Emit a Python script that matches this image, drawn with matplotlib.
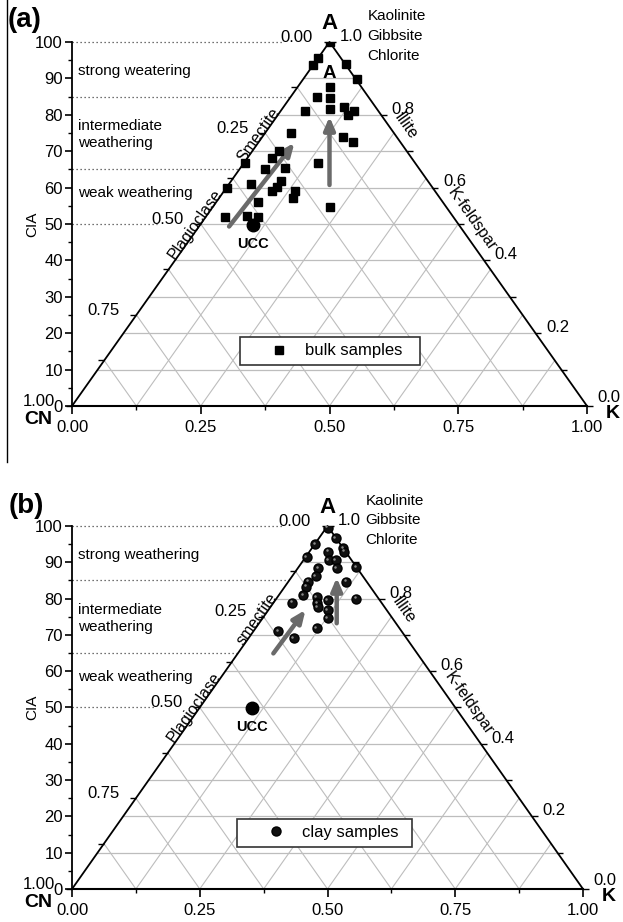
import numpy as np
import matplotlib
matplotlib.use('Agg')
import matplotlib.pyplot as plt
from matplotlib.lines import Line2D
from matplotlib.legend_handler import HandlerLine2D
import matplotlib.transforms as mtransforms

plt.rcParams['font.family'] = ['Liberation Sans', 'DejaVu Sans']

# (a) bulk samples: position on the CN-K base axis and CIA
bulk_x = [0.500, 0.478, 0.467, 0.532, 0.553, 0.501, 0.475, 0.501, 0.501, 0.452,
          0.529, 0.548, 0.535, 0.425, 0.527, 0.546, 0.401, 0.388, 0.477, 0.335,
          0.375, 0.414, 0.406, 0.348, 0.399, 0.388, 0.433, 0.429, 0.300, 0.361,
          0.501, 0.297, 0.340, 0.362]
bulk_cia = [100.0, 95.5, 93.7, 94.0, 89.8, 87.5, 85.0, 84.5, 81.7, 81.0,
            82.2, 81.0, 80.0, 75.0, 73.8, 72.6, 70.1, 68.0, 66.7, 66.7,
            65.0, 65.3, 61.9, 61.0, 60.1, 59.0, 59.1, 57.2, 60.0, 56.1,
            54.6, 51.8, 52.2, 51.8]

# (b) clay samples
clay_x = [0.500, 0.516, 0.476, 0.531, 0.533, 0.459, 0.501, 0.502, 0.516, 0.518,
          0.556, 0.482, 0.477, 0.462, 0.458, 0.536, 0.452, 0.479, 0.480, 0.481,
          0.500, 0.500, 0.500, 0.556, 0.431, 0.479, 0.404, 0.434]
clay_cia = [99.5, 96.7, 95.0, 93.9, 92.9, 91.4, 92.9, 90.6, 90.5, 88.3,
            88.6, 88.4, 86.1, 84.7, 83.3, 84.7, 80.9, 80.4, 78.8, 77.6,
            79.6, 76.8, 74.6, 80.0, 78.9, 71.8, 71.1, 69.1]

ucc_x = [0.352, 0.352]
ucc_cia = [49.7, 49.8]

# weathering trend arrows (tail x, tail CIA, head x, head CIA)
bulk_arrows = [(0.305, 49.3, 0.432, 72.3), (0.500, 60.7, 0.500, 79.5)]
clay_arrows = [(0.394, 64.9, 0.457, 76.9), (0.518, 73.2, 0.518, 85.8)]

# weathering zones
zone_cia = [100, 85, 65, 50]
zone_end = [0.41, 0.425, 0.325, 0.165]
zone_labels_a = ['strong weatering', 'intermediate\nweathering', 'weak weathering']
zone_labels_b = ['strong weathering', 'intermediate\nweathering', 'weak weathering']
zone_label_cia = [92.0, 74.6, 58.5]

base_ticks = [0.0, 0.25, 0.5, 0.75, 1.0]
base_labels = ['0.00', '0.25', '0.50', '0.75', '1.00']
cn_ticks = [0.0, 0.25, 0.5, 0.75, 1.0]
cn_labels = ['0.00', '0.25', '0.50', '0.75', '1.00']
a_ticks = [0.0, 0.2, 0.4, 0.6, 0.8, 1.0]
a_labels = ['0.0', '0.2', '0.4', '0.6', '0.8', '1.0']
minerals = ['Kaolinite', 'Gibbsite', 'Chlorite']
mineral_cia = [107.0, 101.7, 96.2]

GRID = '#bdbdbd'
ARROW = '#6a6a6a'


def panel(ax, xs, cia, sphere, arrows, zone_labels, smectite, inner_a):
    ax.set_xlim(0, 1)
    ax.set_ylim(0, 100)
    ax.patch.set_visible(False)
    for s in ['top', 'right']:
        ax.spines[s].set_visible(False)
    ax.spines['left'].set_linewidth(1.3)
    ax.spines['bottom'].set_linewidth(1.5)
    ax.set_xticks(base_ticks)
    ax.set_xticklabels(base_labels)
    ax.set_xticks(np.arange(0.125, 1, 0.25), minor=True)
    ax.set_yticks(np.arange(0, 101, 10))
    ax.set_yticks(np.arange(0, 101, 5), minor=True)
    ax.tick_params(which='major', length=5, width=1.2, labelsize=12, pad=1.5)
    ax.tick_params(axis='x', which='major', length=6, pad=4)
    ax.tick_params(which='minor', length=2.8, width=1.0)
    ax.set_ylabel('CIA', fontsize=11, labelpad=-3)

    # ternary grid
    for c in range(10, 100, 10):
        ax.plot([c / 200, 1 - c / 200], [c, c], color=GRID, lw=0.9, zorder=1)
    for b in np.arange(0.125, 1, 0.125):
        ax.plot([b, (1 + b) / 2], [0, 100 * (1 - b)], color=GRID, lw=0.8, zorder=1)
        ax.plot([b, b / 2], [0, 100 * b], color=GRID, lw=0.8, zorder=1)
    ax.plot([0, 0.5, 1], [0, 100, 0], color='k', lw=1.3, zorder=2, clip_on=False)

    # edge ticks
    f = np.arange(0, 1.0001, 0.125)
    ax.plot((1 - f) / 2, 100 * (1 - f), ls='none', marker=0, ms=4, mew=1, color='k', clip_on=False)
    a = np.arange(0, 1.0001, 0.1)
    ax.plot(1 - a / 2, 100 * a, ls='none', marker=1, ms=4, mew=1, color='k', clip_on=False)
    for v, lab in zip(cn_ticks, cn_labels):
        off = (-12, 3.5) if v < 1 else (-12, 3)
        ax.annotate(lab, ((1 - v) / 2, 100 * (1 - v)), xytext=off, textcoords='offset points',
                    ha='right', va='center', fontsize=12)
    for v, lab in zip(a_ticks, a_labels):
        off = (7.5, 4) if v > 0 else (7.5, 6)
        ax.annotate(lab, (1 - v / 2, 100 * v), xytext=off, textcoords='offset points',
                    ha='left', va='center', fontsize=12)

    # edge names
    p0 = ax.transData.transform((0, 0))
    p1 = ax.transData.transform((0.5, 100))
    th = np.degrees(np.arctan2(p1[1] - p0[1], p1[0] - p0[0]))
    sn, cs = np.sin(np.radians(th)), np.cos(np.radians(th))
    for name, c in [(smectite, 73.8), ('Plagioclase', 49.3)]:
        ax.annotate(name, (c / 200, c), xytext=(sn * 0.3, -cs * 0.3), textcoords='offset points',
                    rotation=th, rotation_mode='anchor', ha='center', va='baseline', fontsize=11.5)
    for name, c in [('Illite', 74.6), ('K-feldspar', 49.0)]:
        ax.annotate(name, (1 - c / 200, c), xytext=(sn * 6.5, cs * 6.5), textcoords='offset points',
                    rotation=-th, rotation_mode='anchor', ha='center', va='baseline', fontsize=11.5)

    # weathering zones
    for c, e in zip(zone_cia, zone_end):
        ax.plot([0, e], [c, c], color='#444444', lw=0.9, ls=(0, (1, 2.2)), zorder=1, clip_on=False)
    for lab, c in zip(zone_labels, zone_label_cia):
        ax.text(0.012, c, lab, ha='left', va='center', fontsize=11, linespacing=1.25)

    # corner labels
    ax.text(0.5, 105.0, 'A', ha='center', va='center', fontsize=16, fontweight='bold')
    ax.text(-0.066, -3.6, 'CN', ha='center', va='center', fontsize=14, fontweight='bold')
    ax.text(1.05, -2.2, 'K', ha='center', va='center', fontsize=14, fontweight='bold')
    for m, c in zip(minerals, mineral_cia):
        ax.text(0.574, c, m, ha='left', va='center', fontsize=11)
    if inner_a:
        ax.text(0.5, 91.2, 'A', ha='center', va='center', fontsize=13.5, fontweight='bold')

    # arrows
    for x0, y0, x1, y1 in arrows:
        ax.annotate('', xy=(x1, y1), xytext=(x0, y0),
                    arrowprops=dict(arrowstyle='-|>,head_length=0.75,head_width=0.32',
                                    lw=3.2, color=ARROW, shrinkA=0, shrinkB=0), zorder=3)

    # samples
    if sphere:
        h = ax.plot(xs, cia, ls='none', marker='o', ms=6.5, color='#111111', mec='k', zorder=4)[0]
        hl = mtransforms.offset_copy(ax.transData, fig=ax.figure, x=-1.0, y=1.0, units='points')
        ax.plot(xs, cia, ls='none', marker='o', ms=1.8, color='#8a8a8a', mew=0, transform=hl, zorder=5)
    else:
        h = ax.plot(xs, cia, ls='none', marker='s', ms=5.2, color='k', zorder=4)[0]

    return h


fig = plt.figure(figsize=(6.23, 9.22), dpi=100)
ax1 = fig.add_axes([0.1156, 0.5597, 0.8266, 0.3948])
ax2 = fig.add_axes([0.1156, 0.0358, 0.8202, 0.3937])

h1 = panel(ax1, bulk_x, bulk_cia, False, bulk_arrows, zone_labels_a, 'Smectite', True)
h2 = panel(ax2, clay_x, clay_cia, True, clay_arrows, zone_labels_b, 'smectite', False)

for ax, h, ux, uc, lab, box in [(ax1, h1, ucc_x[0], ucc_cia[0], 'bulk samples', (0.326, 0.113, 0.350, 0.09)),
                                (ax2, h2, ucc_x[1], ucc_cia[1], 'clay samples', (0.323, 0.117, 0.342, 0.09))]:
    ax.plot([ux], [uc], ls='none', marker='o', ms=9, color='k', zorder=5)
    ax.text(ux, uc - 5.2, 'UCC', ha='center', va='center', fontsize=10.5, fontweight='bold')
    leg = ax.legend([h], [lab], loc='lower left', bbox_to_anchor=box, mode='expand',
                    borderaxespad=0, fancybox=False, edgecolor='#333333', framealpha=1,
                    fontsize=12, borderpad=0.38, handlelength=3.0, handletextpad=0.5,
                    handler_map={Line2D: HandlerLine2D(xpad=0.95)})
    leg.get_frame().set_linewidth(1.2)

fig.text(0.040, 0.978, '(a)', ha='center', va='center', fontsize=20, fontweight='bold')
fig.text(0.042, 0.451, '(b)', ha='center', va='center', fontsize=20, fontweight='bold')
fig.add_artist(Line2D([0.012, 0.012], [1.0, 0.499], color='k', lw=1.0))

fig.savefig('out.png', dpi=100)
